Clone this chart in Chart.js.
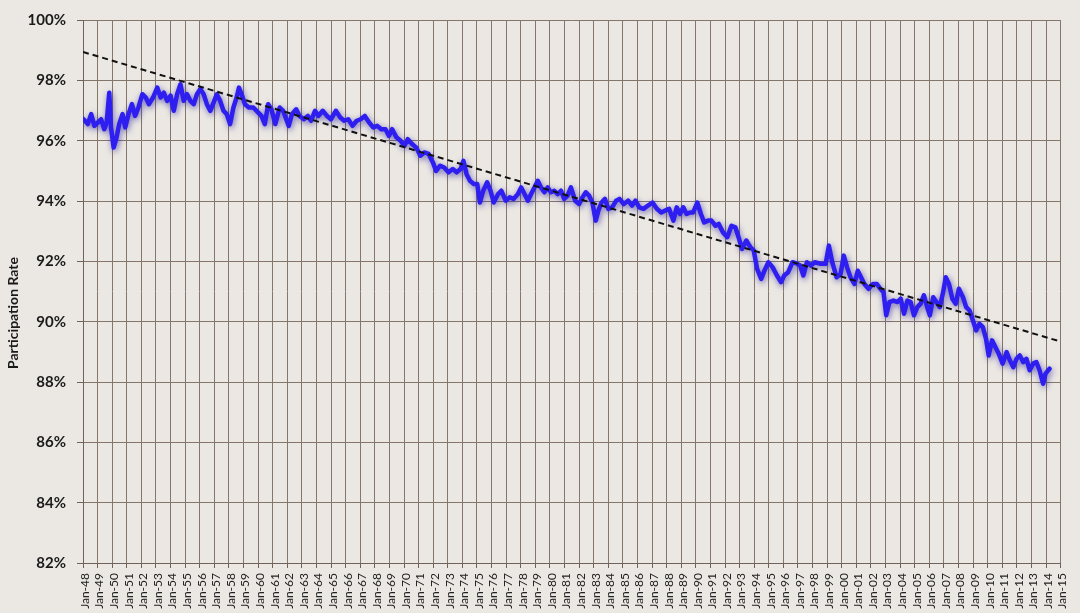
<!DOCTYPE html>
<html lang="en">
<head>
  <meta charset="UTF-8" />
  <title>Participation Rate</title>
  <script src="https://cdn.jsdelivr.net/npm/chart.js"></script>
  <style>
    html, body { margin: 0; padding: 0; background: #ebe8e3; overflow: hidden; }
    canvas { display: block; }
  </style>
</head>
<body>
  <canvas id="grafico" width="1080" height="613"></canvas>

  <script>
    // monthly series (decimal year, percent)
    const years = [
      1948.03, 1948.33, 1948.56, 1948.78, 1949.01, 1949.24, 1949.46, 1949.62, 1949.80, 1949.92,
      1950.10, 1950.30, 1950.48, 1950.71, 1950.89, 1951.12, 1951.35, 1951.57, 1951.80, 1952.07,
      1952.30, 1952.52, 1952.80, 1953.09, 1953.32, 1953.54, 1953.77, 1954.00, 1954.22, 1954.45,
      1954.68, 1954.90, 1955.13, 1955.36, 1955.59, 1955.81, 1956.04, 1956.27, 1956.49, 1956.72,
      1956.95, 1957.17, 1957.40, 1957.63, 1957.85, 1958.08, 1958.31, 1958.53, 1958.69, 1958.87,
      1959.10, 1959.37, 1959.67, 1960.01, 1960.23, 1960.46, 1960.69, 1960.91, 1961.18, 1961.48,
      1961.71, 1961.93, 1962.10, 1962.32, 1962.61, 1962.84, 1963.14, 1963.41, 1963.63, 1963.90,
      1964.14, 1964.43, 1964.72, 1964.99, 1965.33, 1965.63, 1965.90, 1966.18, 1966.47, 1966.76,
      1967.03, 1967.31, 1967.61, 1967.90, 1968.17, 1968.44, 1968.73, 1968.97, 1969.19, 1969.48,
      1969.76, 1970.03, 1970.26, 1970.55, 1970.84, 1971.12, 1971.39, 1971.69, 1971.98, 1972.20,
      1972.48, 1972.75, 1973.05, 1973.34, 1973.61, 1973.88, 1974.07, 1974.29, 1974.52, 1974.79,
      1975.02, 1975.20, 1975.43, 1975.70, 1975.93, 1976.15, 1976.45, 1976.67, 1976.97, 1977.24,
      1977.51, 1977.81, 1978.03, 1978.26, 1978.49, 1978.71, 1978.94, 1979.17, 1979.39, 1979.62,
      1979.85, 1980.07, 1980.30, 1980.53, 1980.76, 1980.98, 1981.21, 1981.44, 1981.73, 1982.00,
      1982.23, 1982.46, 1982.68, 1982.91, 1983.14, 1983.32, 1983.54, 1983.77, 1984.00, 1984.27,
      1984.54, 1984.77, 1985.06, 1985.36, 1985.63, 1985.86, 1986.13, 1986.42, 1986.72, 1987.03,
      1987.33, 1987.63, 1987.90, 1988.17, 1988.46, 1988.69, 1988.92, 1989.14, 1989.37, 1989.60,
      1989.82, 1990.10, 1990.35, 1990.57, 1990.84, 1991.07, 1991.35, 1991.57, 1991.86, 1992.16,
      1992.44, 1992.71, 1992.93, 1993.16, 1993.46, 1993.75, 1993.97, 1994.20, 1994.48, 1994.70,
      1994.97, 1995.27, 1995.56, 1995.84, 1996.06, 1996.33, 1996.63, 1996.93, 1997.15, 1997.37,
      1997.61, 1997.88, 1998.15, 1998.56, 1998.90, 1999.12, 1999.35, 1999.65, 1999.92, 2000.14,
      2000.37, 2000.60, 2000.87, 2001.10, 2001.32, 2001.55, 2001.84, 2002.14, 2002.41, 2002.64,
      2002.86, 2003.05, 2003.27, 2003.54, 2003.82, 2004.04, 2004.27, 2004.50, 2004.72, 2004.95,
      2005.18, 2005.40, 2005.63, 2005.86, 2006.04, 2006.27, 2006.49, 2006.72, 2006.95, 2007.13,
      2007.35, 2007.58, 2007.81, 2008.03, 2008.31, 2008.53, 2008.76, 2008.99, 2009.21, 2009.44,
      2009.67, 2009.89, 2010.07, 2010.30, 2010.53, 2010.76, 2011.03, 2011.30, 2011.52, 2011.76,
      2011.98, 2012.20, 2012.44, 2012.66, 2012.88, 2013.12, 2013.34, 2013.56, 2013.80, 2013.97,
      2014.24
    ];

    const rates = [
      96.71, 96.55, 96.88, 96.49, 96.60, 96.71, 96.38, 96.60, 97.59, 96.44,
      95.77, 96.11, 96.55, 96.88, 96.44, 96.88, 97.21, 96.82, 97.10, 97.54,
      97.43, 97.21, 97.43, 97.76, 97.43, 97.59, 97.32, 97.49, 96.99, 97.54,
      97.87, 97.32, 97.54, 97.32, 97.21, 97.54, 97.71, 97.54, 97.21, 96.99,
      97.26, 97.54, 97.32, 96.99, 96.88, 96.55, 97.10, 97.43, 97.76, 97.54,
      97.21, 97.10, 97.10, 96.93, 96.82, 96.55, 97.21, 97.04, 96.55, 97.10,
      96.99, 96.71, 96.49, 96.88, 97.04, 96.82, 96.71, 96.82, 96.66, 96.99,
      96.82, 96.99, 96.82, 96.71, 96.99, 96.77, 96.66, 96.71, 96.49, 96.66,
      96.71, 96.82, 96.60, 96.44, 96.49, 96.38, 96.38, 96.16, 96.38, 96.11,
      96.00, 95.83, 96.05, 95.89, 95.77, 95.50, 95.61, 95.56, 95.28, 95.00,
      95.17, 95.11, 94.95, 95.06, 94.95, 95.06, 95.33, 94.89, 94.67, 94.56,
      94.56, 93.95, 94.34, 94.62, 94.34, 93.95, 94.23, 94.34, 94.01, 94.12,
      94.07, 94.23, 94.45, 94.23, 94.01, 94.23, 94.45, 94.67, 94.45, 94.29,
      94.45, 94.29, 94.34, 94.23, 94.34, 94.07, 94.18, 94.45, 94.01, 93.90,
      94.12, 94.29, 94.18, 93.95, 93.35, 93.68, 93.95, 94.07, 93.74, 93.79,
      94.01, 94.07, 93.90, 94.01, 93.85, 94.01, 93.79, 93.74, 93.85, 93.95,
      93.74, 93.62, 93.68, 93.74, 93.35, 93.79, 93.57, 93.79, 93.57, 93.62,
      93.62, 93.95, 93.57, 93.29, 93.35, 93.35, 93.18, 93.24, 92.96, 92.80,
      93.18, 93.13, 92.80, 92.41, 92.69, 92.46, 92.36, 91.75, 91.42, 91.69,
      91.97, 91.80, 91.53, 91.31, 91.53, 91.64, 91.97, 91.92, 91.86, 91.53,
      91.97, 91.86, 91.97, 91.92, 91.92, 92.52, 91.97, 91.47, 91.58, 92.19,
      91.80, 91.47, 91.25, 91.69, 91.47, 91.25, 91.09, 91.25, 91.25, 91.09,
      90.98, 90.21, 90.65, 90.70, 90.65, 90.76, 90.26, 90.70, 90.65, 90.21,
      90.48, 90.59, 90.87, 90.48, 90.21, 90.81, 90.65, 90.48, 90.98, 91.47,
      91.25, 90.76, 90.59, 91.09, 90.81, 90.48, 90.37, 90.04, 89.71, 89.93,
      89.82, 89.43, 88.88, 89.38, 89.16, 88.94, 88.61, 88.99, 88.72, 88.49,
      88.77, 88.88, 88.66, 88.77, 88.39, 88.61, 88.66, 88.39, 87.94, 88.28,
      88.44
    ];

    // linear trend, ends read at the plot edges
    const trendYears = [1948, 2015];
    const trendRates = [98.94, 89.34];

    const tickYears = [
      1948, 1949, 1950, 1951, 1952, 1953, 1954, 1955, 1956, 1957, 1958, 1959, 1960, 1961, 1962, 1963, 1964,
      1965, 1966, 1967, 1968, 1969, 1970, 1971, 1972, 1973, 1974, 1975, 1976, 1977, 1978, 1979, 1980, 1981,
      1982, 1983, 1984, 1985, 1986, 1987, 1988, 1989, 1990, 1991, 1992, 1993, 1994, 1995, 1996, 1997, 1998,
      1999, 2000, 2001, 2002, 2003, 2004, 2005, 2006, 2007, 2008, 2009, 2010, 2011, 2012, 2013, 2014, 2015
    ];
    const tickLabels = [
      'Jan-48', 'Jan-49', 'Jan-50', 'Jan-51', 'Jan-52', 'Jan-53', 'Jan-54', 'Jan-55', 'Jan-56', 'Jan-57',
      'Jan-58', 'Jan-59', 'Jan-60', 'Jan-61', 'Jan-62', 'Jan-63', 'Jan-64', 'Jan-65', 'Jan-66', 'Jan-67',
      'Jan-68', 'Jan-69', 'Jan-70', 'Jan-71', 'Jan-72', 'Jan-73', 'Jan-74', 'Jan-75', 'Jan-76', 'Jan-77',
      'Jan-78', 'Jan-79', 'Jan-80', 'Jan-81', 'Jan-82', 'Jan-83', 'Jan-84', 'Jan-85', 'Jan-86', 'Jan-87',
      'Jan-88', 'Jan-89', 'Jan-90', 'Jan-91', 'Jan-92', 'Jan-93', 'Jan-94', 'Jan-95', 'Jan-96', 'Jan-97',
      'Jan-98', 'Jan-99', 'Jan-00', 'Jan-01', 'Jan-02', 'Jan-03', 'Jan-04', 'Jan-05', 'Jan-06', 'Jan-07',
      'Jan-08', 'Jan-09', 'Jan-10', 'Jan-11', 'Jan-12', 'Jan-13', 'Jan-14', 'Jan-15'
    ];

    // soft halo under the blue line
    const sombra = {
      id: 'sombra',
      beforeDatasetDraw(chart, args) {
        if (args.index !== 1) return;
        const ctx = chart.ctx;
        ctx.save();
        ctx.shadowColor = 'rgba(35, 25, 150, 0.6)';
        ctx.shadowBlur = 6;
        ctx.shadowOffsetX = 1;
        ctx.shadowOffsetY = 2;
      },
      afterDatasetDraw(chart, args) {
        if (args.index !== 1) return;
        chart.ctx.restore();
      }
    };

    // y title, a little below the middle like the original
    const tituloY = {
      id: 'tituloY',
      afterDraw(chart) {
        const ctx = chart.ctx;
        ctx.save();
        ctx.translate(13, 313);
        ctx.rotate(-Math.PI / 2);
        ctx.font = 'bold 14px Lato, "Open Sans", sans-serif';
        ctx.fillStyle = '#1a1a1a';
        ctx.textAlign = 'center';
        ctx.textBaseline = 'middle';
        ctx.fillText('Participation Rate', 0, 0);
        ctx.restore();
      }
    };

    Chart.defaults.font.family = 'Lato, "Open Sans", sans-serif';
    Chart.defaults.color = '#1a1a1a';

    new Chart(document.getElementById('grafico'), {
      type: 'line',
      data: {
        datasets: [
          {
            label: 'Trend',
            data: trendYears.map((x, i) => ({ x: x, y: trendRates[i] })),
            borderColor: '#111',
            borderWidth: 2,
            borderDash: [6, 4],
            pointRadius: 0,
            fill: false
          },
          {
            label: 'Participation Rate',
            data: years.map((x, i) => ({ x: x, y: rates[i] })),
            borderColor: '#2e1ff0',
            borderWidth: 4.5,
            borderJoinStyle: 'round',
            borderCapStyle: 'round',
            pointRadius: 0,
            tension: 0,
            fill: false
          }
        ]
      },
      options: {
        responsive: false,
        animation: false,
        devicePixelRatio: 1,
        layout: { padding: { top: 19, right: 12, left: 0, bottom: 0 } },
        plugins: {
          legend: { display: false },
          tooltip: { enabled: false }
        },
        scales: {
          x: {
            type: 'linear',
            min: 1948,
            max: 2015,
            afterFit(scale) { scale.height = 50; },
            afterBuildTicks(scale) { scale.ticks = tickYears.map(v => ({ value: v })); },
            grid: { color: '#85766c', lineWidth: 1, tickLength: 5, tickColor: '#6f625a' },
            border: { color: '#6f625a', width: 1 },
            ticks: {
              autoSkip: false,
              minRotation: 90,
              maxRotation: 90,
              padding: 5,
              labelOffset: 2,
              font: { size: 12 },
              color: '#222',
              callback: (v) => tickLabels[tickYears.indexOf(v)]
            }
          },
          y: {
            min: 82,
            max: 100,
            afterFit(scale) { scale.width = 83; },
            grid: { color: '#85766c', lineWidth: 1, tickLength: 6, tickColor: '#6f625a' },
            border: { color: '#6f625a', width: 1 },
            ticks: {
              stepSize: 2,
              autoSkip: false,
              padding: 11,
              font: { size: 15, weight: 'bold' },
              color: '#1a1a1a',
              callback: (v) => v + '%'
            }
          }
        }
      },
      plugins: [sombra, tituloY]
    });
  </script>
</body>
</html>
